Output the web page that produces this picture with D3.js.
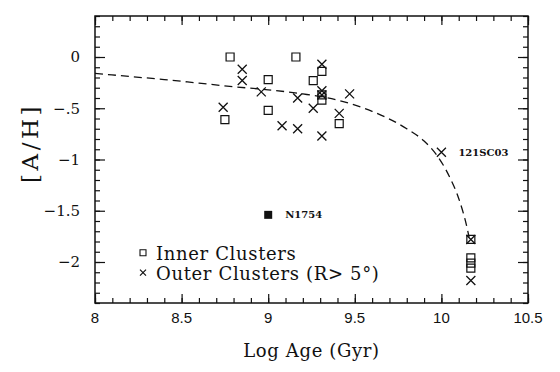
<!DOCTYPE html>
<html>
<head>
<meta charset="utf-8">
<script src="https://cdn.jsdelivr.net/npm/d3@7"></script>
<style>
    body { margin: 0; background: #fff; }
    svg { display: block; }
</style>
</head>
<body>
<svg id="chart" width="560" height="372"></svg>
<script>
// Inner clusters (open squares)
const innerAge = [8.78, 8.75, 9.0, 9.0, 9.16, 9.26, 9.31, 9.31, 9.31, 9.41, 10.17, 10.17, 10.17, 10.17];
const innerAH = [0.0, -0.61, -0.22, -0.52, 0.0, -0.23, -0.14, -0.37, -0.42, -0.65, -1.78, -1.96, -2.01, -2.06];

// Outer clusters, R > 5 deg (crosses)
const outerAge = [8.74, 8.85, 8.85, 8.96, 9.08, 9.17, 9.17, 9.26, 9.31, 9.31, 9.31, 9.31, 9.41, 9.47, 10.0, 10.17, 10.17];
const outerAH = [-0.49, -0.12, -0.23, -0.34, -0.67, -0.70, -0.40, -0.50, -0.07, -0.33, -0.37, -0.77, -0.55, -0.36, -0.93, -1.78, -2.18];
const outerNames = ["", "", "", "", "", "", "", "", "", "", "", "", "", "", "121SC03", "", ""];

// N1754 (filled square)
const filledAge = [9.0];
const filledAH = [-1.54];
const filledNames = ["N1754"];

// dashed model curve
const curveAge = [8.0, 8.2, 8.4, 8.6, 8.8, 9.0, 9.2, 9.4, 9.6, 9.8, 9.9, 9.97, 10.05, 10.1, 10.15, 10.16];
const curveAH = [-0.16, -0.19, -0.22, -0.255, -0.29, -0.32, -0.36, -0.42, -0.53, -0.70, -0.82, -0.95, -1.18, -1.38, -1.68, -1.76];

const xTicks = [8, 8.5, 9, 9.5, 10, 10.5];
const xTickLabels = ["8", "8.5", "9", "9.5", "10", "10.5"];
const yTicks = [0, -0.5, -1, -1.5, -2];
const yTickLabels = ["0", "\u2212.5", "\u22121", "\u22121.5", "\u22122"];

const INK = "#111";

var svg = d3.select("#chart"),
    margin = { top: 16, right: 32, bottom: 69, left: 95 },
    width = 560 - margin.left - margin.right,
    height = 372 - margin.top - margin.bottom;

var x = d3.scaleLinear().domain([8, 10.5]).range([margin.left, margin.left + width]);
var y = d3.scaleLinear().domain([-2.4, 0.4]).range([margin.top + height, margin.top]);

var xMinor = d3.range(80, 106).map(d => d / 10),
    yMinor = d3.range(-24, 5).map(d => d / 10);

// axes, all four sides, ticks pointing inward
let drawAxis = function(axisFn, scale, values, size, transform) {
    let g = svg.append("g")
        .attr("transform", transform)
        .call(axisFn(scale).tickValues(values).tickSize(-size).tickFormat(""));
    g.select(".domain").remove();
    g.selectAll("line").attr("stroke", INK).attr("stroke-width", 1.2);
    return g;
}

let bottomY = margin.top + height,
    rightX = margin.left + width;

drawAxis(d3.axisBottom, x, xMinor, 5, "translate(0," + bottomY + ")");
drawAxis(d3.axisBottom, x, xTicks, 9, "translate(0," + bottomY + ")");
drawAxis(d3.axisTop, x, xMinor, 5, "translate(0," + margin.top + ")");
drawAxis(d3.axisTop, x, xTicks, 9, "translate(0," + margin.top + ")");
drawAxis(d3.axisLeft, y, yMinor, 5, "translate(" + margin.left + ",0)");
drawAxis(d3.axisLeft, y, yTicks, 10, "translate(" + margin.left + ",0)");
drawAxis(d3.axisRight, y, yMinor, 5, "translate(" + rightX + ",0)");
drawAxis(d3.axisRight, y, yTicks, 10, "translate(" + rightX + ",0)");

// frame
svg.append("rect")
    .attr("x", margin.left)
    .attr("y", margin.top)
    .attr("width", width)
    .attr("height", height)
    .attr("fill", "none")
    .attr("stroke", INK)
    .attr("stroke-width", 1.5);

// tick labels
svg.append("g")
    .selectAll("text")
    .data(xTicks)
    .enter()
    .append("text")
    .attr("x", d => x(d))
    .attr("y", bottomY + 20)
    .attr("text-anchor", "middle")
    .style("font-family", "'Liberation Sans', Arial, sans-serif")
    .style("font-size", "15px")
    .attr("fill", INK)
    .text((d, i) => xTickLabels[i]);

svg.append("g")
    .selectAll("text")
    .data(yTicks)
    .enter()
    .append("text")
    .attr("x", margin.left - 15)
    .attr("y", d => y(d))
    .attr("dy", "0.36em")
    .attr("text-anchor", "end")
    .style("font-family", "'DejaVu Serif', serif")
    .style("font-size", "15px")
    .attr("fill", INK)
    .text((d, i) => yTickLabels[i]);

// axis titles
svg.append("text")
    .attr("x", margin.left + width / 2)
    .attr("y", 357)
    .attr("text-anchor", "middle")
    .style("font-family", "'DejaVu Serif', serif")
    .style("font-size", "18px")
    .style("letter-spacing", "0.65px")
    .attr("fill", INK)
    .text("Log Age (Gyr)");

svg.append("text")
    .attr("transform", "translate(30,143) rotate(-90)")
    .attr("dy", "0.36em")
    .attr("text-anchor", "middle")
    .style("font-family", "'DejaVu Serif', serif")
    .style("font-size", "23px")
    .style("letter-spacing", "3.5px")
    .attr("fill", INK)
    .text("[A/H]");

// dashed curve
var line = d3.line()
    .x(d => x(d[0]))
    .y(d => y(d[1]))
    .curve(d3.curveMonotoneX);

svg.append("path")
    .datum(d3.zip(curveAge, curveAH))
    .attr("d", line)
    .attr("fill", "none")
    .attr("stroke", INK)
    .attr("stroke-width", 1.3)
    .attr("stroke-dasharray", "8,5");

// symbols
let squarePath = function(cx, cy, s) {
    return "M" + (cx - s / 2) + "," + (cy - s / 2) + "h" + s + "v" + s + "h" + (-s) + "Z";
}
let crossPath = function(cx, cy, s) {
    let h = s / 2;
    return "M" + (cx - h) + "," + (cy - h) + "L" + (cx + h) + "," + (cy + h) +
        "M" + (cx - h) + "," + (cy + h) + "L" + (cx + h) + "," + (cy - h);
}

svg.append("g")
    .selectAll("path")
    .data(d3.zip(innerAge, innerAH))
    .enter()
    .append("path")
    .attr("d", d => squarePath(x(d[0]), y(d[1]), 8))
    .attr("fill", "none")
    .attr("stroke", INK)
    .attr("stroke-width", 1.2);

svg.append("g")
    .selectAll("path")
    .data(d3.zip(outerAge, outerAH))
    .enter()
    .append("path")
    .attr("d", d => crossPath(x(d[0]), y(d[1]), 9))
    .attr("fill", "none")
    .attr("stroke", INK)
    .attr("stroke-width", 1.3);

svg.append("g")
    .selectAll("path")
    .data(d3.zip(filledAge, filledAH))
    .enter()
    .append("path")
    .attr("d", d => squarePath(x(d[0]), y(d[1]), 8))
    .attr("fill", INK);

// point labels
let labelData = d3.zip(outerAge, outerAH, outerNames)
    .concat(d3.zip(filledAge, filledAH, filledNames))
    .filter(d => d[2] !== "");

svg.append("g")
    .selectAll("text")
    .data(labelData)
    .enter()
    .append("text")
    .attr("x", d => x(d[0]) + 17)
    .attr("y", d => y(d[1]))
    .attr("dy", "0.36em")
    .style("font-family", "'DejaVu Serif', serif")
    .style("font-size", "10px")
    .style("font-weight", "bold")
    .attr("fill", INK)
    .text(d => d[2]);

// legend
let legend = svg.append("g").attr("transform", "translate(143,0)");

legend.append("path")
    .attr("d", squarePath(0, 252.7, 6))
    .attr("fill", "none")
    .attr("stroke", INK)
    .attr("stroke-width", 1.1);
legend.append("path")
    .attr("d", crossPath(0, 272.7, 6))
    .attr("fill", "none")
    .attr("stroke", INK)
    .attr("stroke-width", 1.2);

legend.selectAll("text.leg")
    .data(["Inner Clusters", "Outer Clusters (R> 5\u00b0)"])
    .enter()
    .append("text")
    .attr("class", "leg")
    .attr("x", 13)
    .attr("y", (d, i) => 259.5 + i * 20)
    .style("font-family", "'DejaVu Serif', serif")
    .style("font-size", "18px")
    .style("letter-spacing", "0.65px")
    .attr("fill", INK)
    .text(d => d);
</script>
</body>
</html>
